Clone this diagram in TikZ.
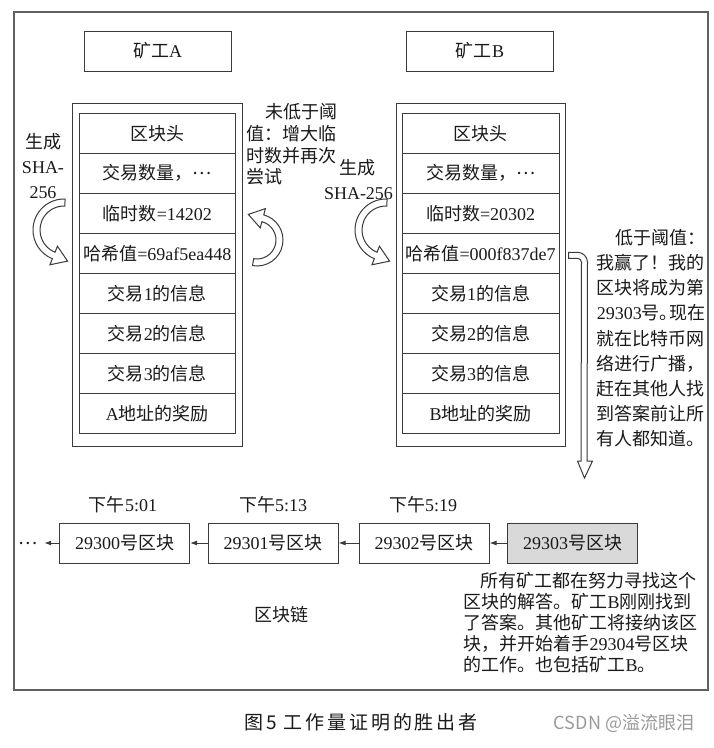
\documentclass[tikz,border=0pt]{standalone}
\usepackage{fontspec}
\usetikzlibrary{arrows.meta,calc}
\setmainfont{Liberation Serif}
\newfontfamily\cjkfont{Noto Sans CJK SC}
\newfontfamily\latfont{Liberation Serif}
\newfontfamily\capfont[LetterSpace=15]{Noto Sans CJK SC}
\newfontfamily\wmfont{Noto Sans CJK SC}
\XeTeXinterchartokenstate=1
\newXeTeXintercharclass\CJKcls
\newcount\cjkcnt
\newcommand\cjkrange[2]{\cjkcnt=#1\relax\loop\XeTeXcharclass\cjkcnt=\CJKcls\relax\ifnum\cjkcnt<#2\relax\advance\cjkcnt by 1\relax\repeat}
\cjkrange{"2E80}{"9FFF}
\cjkrange{"FF00}{"FFEF}
\XeTeXcharclass"2026=\CJKcls
\XeTeXinterchartoks 0 \CJKcls = {\cjkfont}
\XeTeXinterchartoks 4095 \CJKcls = {\cjkfont}
\XeTeXinterchartoks \CJKcls 0 = {\latfont}
\newcommand\plainchars{\XeTeXinterchartokenstate=0\relax}
\newcommand\midells{\raisebox{5pt}{…}}
\definecolor{ink}{HTML}{1A1A1A}
\definecolor{linec}{HTML}{3A3A3A}
\definecolor{framec}{HTML}{606060}
\definecolor{grayfill}{HTML}{D9D9D9}
\definecolor{wmgray}{HTML}{9A9A9A}
\newcommand\hollowcurve[6]{%
  \pgfmathsetmacro\hcm{(#5+#6)/2}%
  \pgfmathsetmacro\hcW{#5+6.5}%
  \pgfmathsetmacro\hcw{#6-6.5}%
  \pgfmathsetmacro\hcd{#4-90}%
  \draw[hollow] ($(#1,#2)+(#3:#5)$) arc[start angle=#3, end angle=#4, radius=#5]
    -- ($(#1,#2)+(#4:\hcW)$) -- ($(#1,#2)+(#4:\hcm)+(\hcd:15)$) -- ($(#1,#2)+(#4:\hcw)$)
    -- ($(#1,#2)+(#4:#6)$) arc[start angle=#4, end angle=#3, radius=#6] -- cycle;}
\tikzset{
  txt/.style={font=\fontsize{18}{22}\selectfont, text=ink, inner sep=0pt},
  row/.style={draw=linec, line width=1pt, minimum width=156.7pt, minimum height=40pt, inner sep=0pt, font=\fontsize{18}{22}\selectfont, text=ink},
  outerbox/.style={draw=linec, line width=1pt, minimum width=169.5pt, minimum height=343pt, inner sep=0pt},
  minerbox/.style={draw=linec, line width=1pt, minimum width=147pt, minimum height=40pt, inner sep=0pt, font=\fontsize{18}{22}\selectfont, text=ink},
  chainbox/.style={draw=linec, line width=1pt, minimum width=130pt, minimum height=40pt, inner sep=0pt, font=\fontsize{18}{22}\selectfont, text=ink},
  chainarr/.style={draw=linec, line width=1pt, -{Latex[length=7pt,width=5pt]}},
  hollow/.style={draw=linec, line width=1pt, fill=white, line join=miter},
  frame/.style={draw=framec, line width=1.3pt}
}
\begin{document}
\begin{tikzpicture}[x=1pt,y=-1pt]
\fill[white] (0,0) rectangle (714,748);
\useasboundingbox (0,0) rectangle (714,748);
\draw[frame] (14,12) rectangle (708,690);
% miners
\node[minerbox] (ma) at (157.5,51) {矿工A};
\node[minerbox] (mb) at (480,51) {矿工B};
% blocks
\node[outerbox] (oa) at (157.5,274.5) {};
\node[outerbox] (ob) at (480.8,274.5) {};
\foreach \t [count=\i] in {区块头,交易数量，\midells,临时数=14202,哈希值=69af5ea448,交易1的信息,交易2的信息,交易3的信息,A地址的奖励}
  \node[row] (a\i) at (157.35,93.3+40*\i) {\t};
\foreach \t [count=\i] in {区块头,交易数量，\midells,临时数=20302,哈希值=000f837de7,交易1的信息,交易2的信息,交易3的信息,B地址的奖励}
  \node[row] (b\i) at (480.65,93.3+40*\i) {\t};
% left labels A
\node[txt,anchor=base] (ga1) at (43,148.5) {生成};
\node[txt,anchor=base] (ga2) at (43,173) {SHA-};
\node[txt,anchor=base] (ga3) at (43,198) {256};
% right text A
\node[txt,anchor=base west] (na1) at (265,118.5) {未低于阈};
\node[txt,anchor=base west] (na2) at (246,140.3) {值：增大临};
\node[txt,anchor=base west] (na3) at (246,162.1) {时数并再次};
\node[txt,anchor=base west] (na4) at (246,183.9) {尝试};
% left labels B
\node[txt,anchor=base] (gb1) at (357.5,174) {生成};
\node[txt,anchor=base] (gb2) at (358.5,199.5) {SHA-256};
% curved arrows
\hollowcurve{64}{230}{272}{112}{31}{24}
\hollowcurve{257}{240}{100}{-75}{26}{19}
\hollowcurve{386}{230}{272}{112}{31}{24}
% bracket arrow from B hash
\coordinate (bs) at ($(b4.east)+(9,-1)$);
\coordinate (btip) at (584.5,478);
\draw[hollow] (bs) -- ++(9,0) arc[start angle=-90,end angle=0,radius=10]
  -- ($(btip)+(2.5,-17)$) -- ($(btip)+(8,-17)$) -- (btip) -- ($(btip)+(-7,-17)$) -- ($(btip)+(-3.5,-17)$)
  -- ($(bs)+(13,10)$) arc[start angle=0,end angle=-90,radius=4] -- ($(bs)+(0,6)$) -- cycle;
% right text B
\node[txt,anchor=base west] (nb0) at (615,244.3) {低于阈值：};
\foreach \t [count=\i] in {我赢了！我的,区块将成为第,29303号。\hspace{-8pt}现在,就在比特币网,络进行广播，,赶在其他人找,到答案前让所,有人都知道。}
  \node[txt,anchor=base west] (nb\i) at (596.7,244.3+25.2*\i) {\t};
% chain
\node[txt,anchor=base] (t0) at (123,511.8) {下午5:01};
\node[txt,anchor=base] (t1) at (273,511.8) {下午5:13};
\node[txt,anchor=base] (t2) at (423,511.8) {下午5:19};
\node[chainbox] (c0) at (124.5,543) {29300号区块};
\node[chainbox] (c1) at (273,543) {29301号区块};
\node[chainbox] (c2) at (424,543) {29302号区块};
\node[chainbox,fill=grayfill] (c3) at (572.5,543) {29303号区块};
\node[txt,inner sep=6pt] (dots) at (28.5,543) {…};
\draw[chainarr] (c0.west) -- (dots.east);
\draw[chainarr] (c1.west) -- (c0.east);
\draw[chainarr] (c2.west) -- (c1.east);
\draw[chainarr] (c3.west) -- (c2.east);
\node[txt,anchor=base] (chainlbl) at (281,621.8) {区块链};
% bottom paragraph
\node[txt,anchor=base west] (p0) at (480,587.8) {所有矿工都在努力寻找这个};
\foreach \t [count=\i] in {区块的解答。矿工B刚刚找到,了答案。其他矿工将接纳该区,块，并开始着手29304号区块,的工作。也包括矿工B。}
  \node[txt,anchor=base west] (p\i) at (463.3,587.8+21*\i) {\t};
% caption
\node[anchor=base,inner sep=0pt,text=ink,font=\plainchars\capfont\fontsize{19}{22}\selectfont] (cap) at (361,729) {图5 工作量证明的胜出者};
\node[anchor=base,inner sep=0pt,text=wmgray,font=\plainchars\wmfont\fontsize{18}{22}\selectfont] (wm) at (624,729) {CSDN @溢流眼泪};
\end{tikzpicture}
\end{document}
